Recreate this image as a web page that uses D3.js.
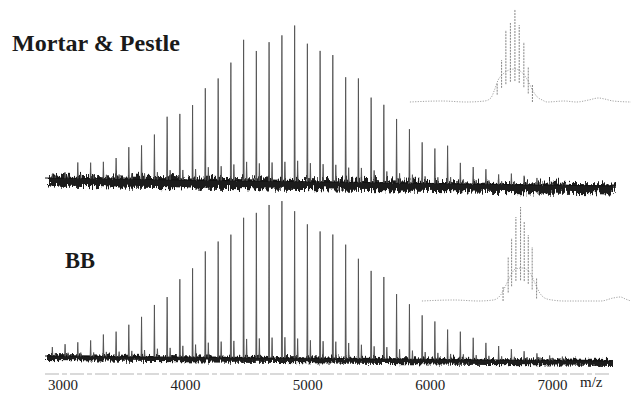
<!DOCTYPE html>
<html>
<head>
<meta charset="utf-8">
<script src="https://cdn.jsdelivr.net/npm/d3@7"></script>
<style>
  body { margin: 0; background: #fff; }
  svg { display: block; }
</style>
</head>
<body>
<div id="chart"></div>
<script>
// peak m/z (repeat unit ~104)
const peakMz = [2917, 3021, 3125, 3230, 3334, 3438, 3542, 3646, 3751, 3855,
  3959, 4063, 4167, 4272, 4376, 4480, 4584, 4688, 4793, 4897,
  5001, 5105, 5209, 5314, 5418, 5522, 5626, 5730, 5835, 5939,
  6043, 6147, 6251, 6356, 6460, 6564, 6668, 6772, 6877, 6981, 7085]

// relative intensities
const topHeights = [4, 6, 16, 16, 17, 21, 32, 34, 45, 63, 66, 75, 92, 102, 118, 141, 130, 139, 146, 156,
  138, 131, 127, 105, 104, 85, 78, 64, 54, 41, 35, 38, 21, 17, 15, 10, 11, 9, 7, 4, 3]
const bottomHeights = [9, 12, 14, 16, 22, 25, 32, 40, 52, 60, 78, 89, 106, 116, 123, 140, 145, 153, 157, 147,
  134, 127, 124, 114, 100, 88, 82, 65, 55, 44, 38, 30, 28, 22, 17, 14, 11, 9, 7, 5, 4]

// baseline drift (m/z, intensity)
const topBaseline = [[2857, 8], [7488, 0]]
const bottomBaseline = [[2857, 5], [7488, 0]]

// insets: envelope and comb spikes
const topInsetEnv = [[5839, 0], [6100, 1], [6300, 0], [6450, 1], [6500, 4], [6530, 12], [6560, 22], [6600, 28],
  [6650, 32], [6700, 33], [6750, 30], [6800, 22], [6840, 12], [6880, 5], [6920, 2], [6960, 0], [7100, 1],
  [7200, 0], [7300, 2], [7380, 4], [7430, 3], [7500, 1], [7645, 0]]
const topInsetSpikes = [[6552, 19], [6588, 42], [6623, 72], [6660, 79], [6697, 93], [6732, 77], [6770, 60], [6806, 35], [6840, 18]]
const bottomInsetEnv = [[5937, 0], [6200, 1], [6400, 0], [6520, 1], [6580, 6], [6620, 15], [6660, 25], [6700, 32],
  [6760, 33], [6820, 28], [6860, 18], [6900, 8], [6940, 3], [7000, 1], [7100, 0], [7400, 0], [7500, 3],
  [7560, 4], [7600, 2], [7645, 0]]
const bottomInsetSpikes = [[6600, 14], [6642, 44], [6670, 63], [6705, 84], [6743, 94], [6773, 79], [6806, 66], [6838, 54], [6874, 23]]

const mzTicks = [3000, 4000, 5000, 6000, 7000]
const traceRange = [2857, 7488]

const width = 631
const height = 394
const serif = '"Palatino Linotype", "Book Antiqua", Palatino, "Liberation Serif", "DejaVu Serif", serif'

const svg = d3.select('#chart').append('svg')
  .attr('width', width)
  .attr('height', height)

// noise texture for the baseline band
const defs = svg.append('defs')
function noiseFilter(id, y0, scale, seed) {
  const f = defs.append('filter')
    .attr('id', id)
    .attr('filterUnits', 'userSpaceOnUse')
    .attr('x', 0).attr('y', y0).attr('width', width).attr('height', 60)
  f.append('feTurbulence')
    .attr('type', 'turbulence')
    .attr('baseFrequency', '0.45 0.06')
    .attr('numOctaves', 2)
    .attr('seed', seed)
    .attr('result', 'n')
  f.append('feDisplacementMap')
    .attr('in', 'SourceGraphic')
    .attr('in2', 'n')
    .attr('scale', scale)
    .attr('xChannelSelector', 'B')
    .attr('yChannelSelector', 'G')
}
noiseFilter('jagTop', 150, 12, 4)
noiseFilter('jagBottom', 330, 7, 9)

const x = d3.scaleLinear().domain([3000, 7000]).range([62.5, 552])

function drawSpectrum(opt) {
  const y = d3.scaleLinear().domain([0, 160]).range(opt.yRange)
  const base = d3.scaleLinear()
    .domain(opt.baseline.map(d => d[0]))
    .range(opt.baseline.map(d => d[1]))

  const g = svg.append('g').attr('class', 'spectrum')

  // noisy baseline band
  g.append('path')
    .attr('d', d3.line()(opt.baseline.map(d => [x(d[0]), y(d[1])])))
    .attr('fill', 'none')
    .attr('stroke', '#1c1c1c')
    .attr('stroke-width', opt.band)
    .attr('filter', `url(#${opt.filter})`)

  g.append('path')
    .attr('d', d3.line()(opt.baseline.map(d => [x(d[0]), y(d[1])])))
    .attr('fill', 'none')
    .attr('stroke', '#111')
    .attr('stroke-width', 1)

  // peaks
  g.selectAll('path.peak')
    .data(peakMz.map((m, i) => ({ mz: m, h: opt.heights[i] })))
    .join('path')
    .attr('class', 'peak')
    .attr('d', d => {
      const b = base(d.mz)
      return `M${x(d.mz) - 0.5},${y(b)}L${x(d.mz)},${y(b + d.h)}L${x(d.mz) + 0.5},${y(b)}`
        + `M${x(d.mz) + 2.5},${y(b)}L${x(d.mz) + 3},${y(b + d.h * 0.12 + 2)}L${x(d.mz) + 3.5},${y(b)}`
    })
    .attr('fill', '#5a5a5a')
    .attr('stroke', '#4a4a4a')
    .attr('stroke-width', 0.8)

  // inset
  const yi = d3.scaleLinear().domain([0, 100]).range([opt.insetBase, opt.insetBase - 100])
  const envAt = d3.scaleLinear()
    .domain(opt.insetEnv.map(d => d[0]))
    .range(opt.insetEnv.map(d => d[1]))
  const ins = svg.append('g').attr('class', 'inset')
  ins.append('path')
    .attr('d', d3.line().x(d => x(d[0])).y(d => yi(d[1])).curve(d3.curveMonotoneX)(opt.insetEnv))
    .attr('fill', 'none')
    .attr('stroke', '#999')
    .attr('stroke-width', 0.9)
    .attr('stroke-dasharray', '1.2 1.4')
  ins.selectAll('line')
    .data(opt.insetSpikes)
    .join('line')
    .attr('x1', d => x(d[0])).attr('x2', d => x(d[0]))
    .attr('y1', d => yi(Math.max(0, envAt(d[0]) - 12)))
    .attr('y2', d => yi(d[1]))
    .attr('stroke', '#777')
    .attr('stroke-width', 0.9)
    .attr('stroke-dasharray', '2 1')

  svg.append('text')
    .attr('x', opt.label[0])
    .attr('y', opt.label[1])
    .attr('font-family', serif)
    .attr('font-weight', 'bold')
    .attr('font-size', 23)
    .attr('fill', '#1a1a1a')
    .attr('textLength', opt.labelLength)
    .attr('lengthAdjust', 'spacingAndGlyphs')
    .text(opt.name)
}

drawSpectrum({
  name: 'Mortar & Pestle', label: [12, 51], labelLength: 168,
  heights: topHeights, baseline: topBaseline, yRange: [186, 26],
  band: 11, filter: 'jagTop',
  insetEnv: topInsetEnv, insetSpikes: topInsetSpikes, insetBase: 102
})
drawSpectrum({
  name: 'BB', label: [65, 268], labelLength: 30,
  heights: bottomHeights, baseline: bottomBaseline, yRange: [361, 201],
  band: 6, filter: 'jagBottom',
  insetEnv: bottomInsetEnv, insetSpikes: bottomInsetSpikes, insetBase: 301
})

// axis
const axisY = 374
svg.append('line')
  .attr('x1', x(traceRange[0])).attr('x2', x(traceRange[1]))
  .attr('y1', axisY).attr('y2', axisY)
  .attr('stroke', '#b5b5b5')
  .attr('stroke-width', 1)
  .attr('stroke-dasharray', '14 3 5 3')

const axis = svg.append('g')
  .attr('transform', `translate(0,${axisY})`)
  .call(d3.axisBottom(x).tickValues(mzTicks).tickFormat(d3.format('d')).tickSize(0).tickPadding(5))
axis.select('.domain').remove()
axis.selectAll('text')
  .attr('font-family', serif)
  .attr('font-size', 15)
  .attr('fill', '#222')

svg.append('text')
  .attr('x', 580)
  .attr('y', 387)
  .attr('font-family', serif)
  .attr('font-size', 15)
  .attr('fill', '#222')
  .text('m/z')
</script>
</body>
</html>
